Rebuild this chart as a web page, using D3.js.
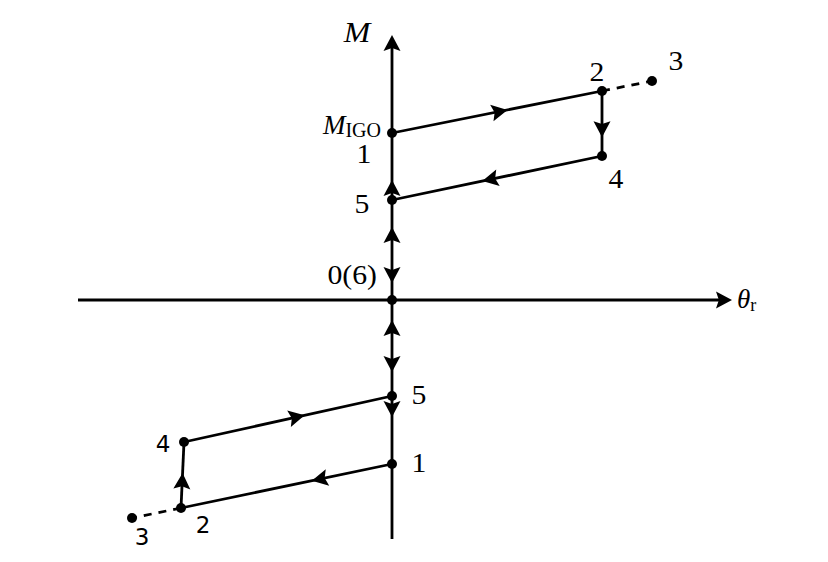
<!DOCTYPE html>
<html>
<head>
<meta charset="utf-8">
<script src="https://cdn.jsdelivr.net/npm/d3@7"></script>
<style>
  html, body { margin: 0; padding: 0; background: #fff; }
  svg { display: block; }
  .serif { font-family: "Liberation Serif", "Times New Roman", Times, serif; }
  .sans { font-family: "DejaVu Sans", sans-serif; }
</style>
</head>
<body>
<svg id="chart" width="828" height="562"></svg>
<script>
// ---------- data (θr, M) in arbitrary units ----------
const axisX = [-15.7, 17.0];          // θr axis extent
const axisY = [-23.9, 26.5];          // M axis extent

const upperIds = ["1", "2", "3", "4", "5"];
const upperTheta = [0, 10.5, 13.0, 10.5, 0];
const upperM = [16.7, 20.9, 21.9, 14.4, 10.0];

const lowerIds = ["1", "2", "3", "4", "5"];
const lowerTheta = [0, -10.55, -13.0, -10.4, 0];
const lowerM = [-16.4, -20.8, -21.8, -14.2, -9.6];

// solid path segments (from, to, arrow-tip fraction along the segment)
const upperSegFrom = ["1", "2", "4"];
const upperSegTo = ["2", "4", "5"];
const upperSegArrow = [0.55, 0.71, 0.57];
const lowerSegFrom = ["1", "2", "4"];
const lowerSegTo = ["2", "4", "5"];
const lowerSegArrow = [0.38, 0.53, 0.58];
// dashed extension
const dashFrom = "2", dashTo = "3";

// arrows on the M axis: tip value and direction (+1 up, -1 down)
const axisArrowM = [12.0, 7.3, 1.7, -2.0, -7.2, -11.7];
const axisArrowDir = [1, 1, -1, 1, -1, -1];

// ---------- scales ----------
const svg = d3.select("#chart");
const x = d3.scaleLinear().domain([-16, 17]).range([72, 732]);
const y = d3.scaleLinear().domain([-24, 26.5]).range([540, 35]);

const LW = 2.8;
const HL = 16, HW = 17;   // arrowhead length / width

function arrowHead(g, tx, ty, angleRad, len = HL, wid = HW) {
  const p = `M0,0 L${-len},${-wid / 2} L${-len * 0.82},0 L${-len},${wid / 2} Z`;
  g.append("path")
    .attr("d", p)
    .attr("transform", `translate(${tx},${ty}) rotate(${angleRad * 180 / Math.PI})`)
    .attr("fill", "#000");
}

const gAxes = svg.append("g");
// horizontal axis
gAxes.append("line")
  .attr("x1", x(axisX[0])).attr("y1", y(0))
  .attr("x2", x(axisX[1]) - HL * 0.8).attr("y2", y(0))
  .attr("stroke", "#000").attr("stroke-width", LW);
arrowHead(gAxes, x(axisX[1]), y(0), 0);
// vertical axis
gAxes.append("line")
  .attr("x1", x(0)).attr("y1", y(axisY[0]))
  .attr("x2", x(0)).attr("y2", y(axisY[1]) + HL * 0.8)
  .attr("stroke", "#000").attr("stroke-width", LW);
arrowHead(gAxes, x(0), y(axisY[1]), -Math.PI / 2);

// arrows on M axis
axisArrowM.forEach((m, i) => {
  arrowHead(gAxes, x(0), y(m), axisArrowDir[i] > 0 ? -Math.PI / 2 : Math.PI / 2);
});

function drawLoop(ids, th, mm, segFrom, segTo, segArrow) {
  const pt = {};
  ids.forEach((id, i) => pt[id] = [x(th[i]), y(mm[i])]);
  const g = svg.append("g");
  segFrom.forEach((f, i) => {
    const a = pt[f], b = pt[segTo[i]];
    g.append("line")
      .attr("x1", a[0]).attr("y1", a[1]).attr("x2", b[0]).attr("y2", b[1])
      .attr("stroke", "#000").attr("stroke-width", LW);
    const t = segArrow[i];
    const ang = Math.atan2(b[1] - a[1], b[0] - a[0]);
    arrowHead(g, a[0] + (b[0] - a[0]) * t, a[1] + (b[1] - a[1]) * t, ang);
  });
  const a = pt[dashFrom], b = pt[dashTo];
  g.append("line")
    .attr("x1", a[0]).attr("y1", a[1]).attr("x2", b[0]).attr("y2", b[1])
    .attr("stroke", "#000").attr("stroke-width", LW)
    .attr("stroke-dasharray", "8,7");
  ids.forEach(id => {
    g.append("circle").attr("cx", pt[id][0]).attr("cy", pt[id][1]).attr("r", 5).attr("fill", "#000");
  });
  return pt;
}

const up = drawLoop(upperIds, upperTheta, upperM, upperSegFrom, upperSegTo, upperSegArrow);
const lo = drawLoop(lowerIds, lowerTheta, lowerM, lowerSegFrom, lowerSegTo, lowerSegArrow);
svg.append("circle").attr("cx", x(0)).attr("cy", y(0)).attr("r", 5).attr("fill", "#000");

// ---------- labels ----------
const SX = 1.1;
function label(px, py, txt, opts = {}) {
  return svg.append("text")
    .attr("class", opts.cls || "serif")
    .attr("transform", `translate(${px},${py}) scale(${opts.sx || SX},1)`)
    .attr("text-anchor", opts.anchor || "middle")
    .attr("font-size", opts.size || 27)
    .attr("font-style", opts.italic ? "italic" : "normal")
    .attr("fill", "#000")
    .text(txt);
}

// upper loop labels
label(up["1"][0] - 28, up["1"][1] + 30, "1");
label(up["2"][0] - 5, up["2"][1] - 10, "2");
label(up["3"][0] + 24, up["3"][1] - 11, "3");
label(up["4"][0] + 14, up["4"][1] + 32, "4");
label(up["5"][0] - 30, up["5"][1] + 13, "5");
// M_IGO
{
  const t = svg.append("text")
    .attr("class", "serif")
    .attr("transform", `translate(${up["1"][0] - 11},${up["1"][1] + 1})`)
    .attr("text-anchor", "end")
    .attr("fill", "#000");
  t.append("tspan").attr("font-style", "italic").attr("font-size", 27).text("M");
  t.append("tspan").attr("font-size", 20).attr("dy", 3).text("IGO");
}
// origin
label(x(0) - 15, y(0) - 16, "0(6)", { anchor: "end" });

// lower loop labels
label(lo["5"][0] + 27, lo["5"][1] + 8, "5");
label(lo["1"][0] + 27, lo["1"][1] + 8, "1");
label(lo["4"][0] - 21, lo["4"][1] + 10, "4", { cls: "sans", size: 23, sx: 1 });
label(lo["2"][0] + 22, lo["2"][1] + 25, "2", { cls: "sans", size: 23, sx: 1 });
label(lo["3"][0] + 10, lo["3"][1] + 27, "3", { cls: "sans", size: 23, sx: 1 });

// axis titles
label(x(0) - 35, y(axisY[1]) + 7, "M", { italic: true, size: 29, sx: 1.1 });
{
  const t = svg.append("text")
    .attr("class", "serif")
    .attr("transform", `translate(${x(axisX[1]) + 5},${y(0) + 8})`)
    .attr("text-anchor", "start")
    .attr("fill", "#000");
  t.append("tspan").attr("font-style", "italic").attr("font-size", 27).text("θ");
  t.append("tspan").attr("font-size", 18).attr("dy", 3).text("r");
}
</script>
</body>
</html>
